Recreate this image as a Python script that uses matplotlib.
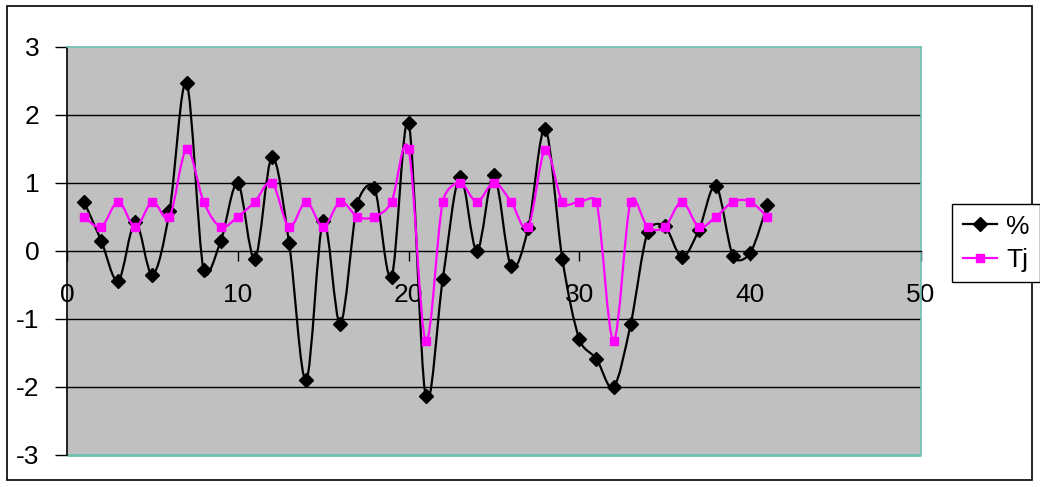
import matplotlib
matplotlib.use("Agg")
import matplotlib.pyplot as plt
from matplotlib.path import Path
from matplotlib.patches import PathPatch, Rectangle
from matplotlib.lines import Line2D
import numpy as np

plt.rcParams['font.family'] = ['Liberation Sans', 'DejaVu Sans']
plt.rcParams['axes.unicode_minus'] = False

x_vals = list(range(1, 42))
pct = [0.72, 0.15, -0.44, 0.42, -0.35, 0.58, 2.46, -0.29, 0.14, 0.99,
       -0.12, 1.37, 0.12, -1.90, 0.44, -1.07, 0.69, 0.92, -0.38, 1.88,
       -2.14, -0.42, 1.09, 0.00, 1.11, -0.23, 0.33, 1.79, -0.12, -1.30,
       -1.59, -2.00, -1.08, 0.28, 0.36, -0.09, 0.31, 0.95, -0.08, -0.03,
       0.67]
tj = [0.50, 0.35, 0.72, 0.35, 0.72, 0.50, 1.49, 0.72, 0.35, 0.50,
      0.72, 1.00, 0.35, 0.72, 0.35, 0.72, 0.50, 0.50, 0.72, 1.49,
      -1.32, 0.72, 1.00, 0.72, 1.00, 0.72, 0.35, 1.48, 0.72, 0.72,
      0.72, -1.32, 0.72, 0.35, 0.35, 0.72, 0.35, 0.50, 0.72, 0.72,
      0.50]
series_names = ['%', 'Tj']
x_ticks = [0, 10, 20, 30, 40, 50]
y_ticks = [-3, -2, -1, 0, 1, 2, 3]

W, H = 1040, 487
fig = plt.figure(figsize=(W / 100, H / 100), dpi=100)
fig.patch.set_facecolor('white')

# outer chart border
fig.add_artist(Rectangle((7 / W, 1 - 480 / H), (1032 - 7) / W, (480 - 6) / H,
                         transform=fig.transFigure, fill=False,
                         edgecolor='black', linewidth=1.2))

ax = fig.add_axes([67 / W, 1 - 455 / H, (921 - 67) / W, (455 - 46.5) / H])
ax.set_facecolor('#C0C0C0')
ax.set_xlim(0, 50)
ax.set_ylim(-3, 3)

for s in ['top', 'right']:
    ax.spines[s].set_color('#6FC0B0')
    ax.spines[s].set_linewidth(1.2)
ax.spines['left'].set_color('black')
ax.spines['left'].set_linewidth(1.2)
ax.spines['bottom'].set_position(('data', 0))
ax.spines['bottom'].set_color('black')
ax.spines['bottom'].set_linewidth(1.0)
ax.add_patch(Rectangle((0, 0), 1, 0, transform=ax.transAxes, fill=False,
                       edgecolor='#6FC0B0', linewidth=2.0, clip_on=False, zorder=0.5))

for yv in y_ticks:
    if yv not in (-3, 0, 3):
        ax.axhline(yv, color='black', linewidth=1.0, zorder=1)

ax.set_xticks(x_ticks)
ax.set_yticks(y_ticks)
ax.tick_params(axis='x', direction='out', length=7, width=1, pad=16, labelsize=19)
ax.tick_params(axis='y', direction='out', length=9, width=1, pad=11, labelsize=19)


def smooth_path(xs, ys):
    # Excel-style Bezier smoothing: tension 1/6, control arm <= half segment
    data = np.column_stack([xs, ys]).astype(float)
    scr = ax.transData.transform(data)
    n = len(scr)
    f = 1 / 6.0
    verts = [scr[0]]
    codes = [Path.MOVETO]
    for i in range(n - 1):
        p0 = scr[i - 1] if i > 0 else scr[i]
        p1 = scr[i]
        p2 = scr[i + 1]
        p3 = scr[i + 2] if i + 2 < n else scr[i + 1]
        d12 = np.hypot(*(p2 - p1))
        d02 = np.hypot(*(p2 - p0))
        d13 = np.hypot(*(p3 - p1))
        f1 = f if d02 * f <= d12 / 2 else d12 / (2 * d02)
        f2 = f if d13 * f <= d12 / 2 else d12 / (2 * d13)
        c1 = p1 + f1 * (p2 - p0)
        c2 = p2 - f2 * (p3 - p1)
        verts += [c1, c2, p2]
        codes += [Path.CURVE4] * 3
    verts = ax.transData.inverted().transform(np.array(verts))
    return Path(verts, codes)


ax.add_patch(PathPatch(smooth_path(x_vals, pct), fill=False, edgecolor='black',
                       linewidth=1.6, zorder=3))
ax.plot(x_vals, pct, linestyle='none', marker='D', markersize=7,
        color='black', zorder=4)
ax.add_patch(PathPatch(smooth_path(x_vals, tj), fill=False, edgecolor='#FF00FF',
                       linewidth=1.6, zorder=5))
ax.plot(x_vals, tj, linestyle='none', marker='s', markersize=5.5,
        color='#FF00FF', zorder=6)

handles = [Line2D([], [], color='black', marker='D', markersize=7, linewidth=1.6),
           Line2D([], [], color='#FF00FF', marker='s', markersize=5.5, linewidth=1.6)]
leg = fig.legend(handles, series_names, loc='upper left',
                 bbox_to_anchor=(952 / W, 1 - 204 / H), fontsize=19,
                 frameon=True, fancybox=False, framealpha=1, edgecolor='black',
                 handlelength=1.3, handletextpad=0.35, borderpad=0.4,
                 labelspacing=0.35, borderaxespad=0)
leg.get_frame().set_linewidth(1.0)

fig.savefig('out.png', dpi=100)
